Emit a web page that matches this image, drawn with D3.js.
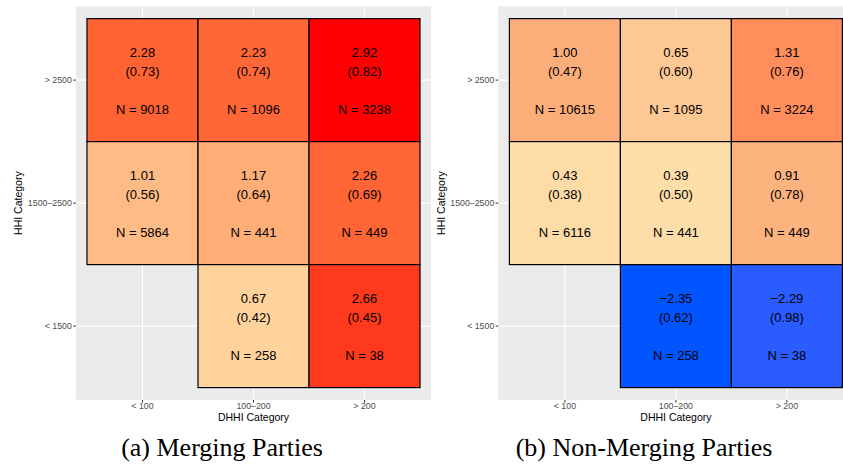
<!DOCTYPE html>
<html>
<head>
<meta charset="utf-8">
<script src="https://cdn.jsdelivr.net/npm/d3@7"></script>
<style>
  html, body { margin: 0; padding: 0; background: #fff; }
  svg { display: block; }
</style>
</head>
<body>
<svg id="chart" width="843" height="468"></svg>
<script>
// Category labels
const dhhiCats = ["< 100", "100–200", "> 200"];
const hhiCats = ["> 2500", "1500–2500", "< 1500"];

// Merging parties: mean, (se), N per cell
const mergingDhhi = ["< 100", "100–200", "> 200", "< 100", "100–200", "> 200", "100–200", "> 200"];
const mergingHhi = ["> 2500", "> 2500", "> 2500", "1500–2500", "1500–2500", "1500–2500", "< 1500", "< 1500"];
const mergingMean = [2.28, 2.23, 2.92, 1.01, 1.17, 2.26, 0.67, 2.66];
const mergingSe = [0.73, 0.74, 0.82, 0.56, 0.64, 0.69, 0.42, 0.45];
const mergingN = [9018, 1096, 3238, 5864, 441, 449, 258, 38];

// Non-merging parties
const nonMergingDhhi = mergingDhhi;
const nonMergingHhi = mergingHhi;
const nonMergingMean = [1.00, 0.65, 1.31, 0.43, 0.39, 0.91, -2.35, -2.29];
const nonMergingSe = [0.47, 0.60, 0.76, 0.38, 0.50, 0.78, 0.62, 0.98];
const nonMergingN = [10615, 1095, 3224, 6116, 441, 449, 258, 38];

// Fill gradients (value stops -> colours)
const mergingStops = [0.67, 1.01, 1.17, 2.25, 2.66, 2.92];
const mergingColors = ["#ffd39b", "#ffbb85", "#ffae78", "#ff6636", "#ff3a1c", "#ff0000"];
const nonMergingStops = [-2.35, -2.29, 0.39, 0.43, 0.65, 0.91, 1.00, 1.31];
const nonMergingColors = ["#0055ff", "#2b5cff", "#fedea8", "#fedca6", "#fdc893", "#fdb37e", "#fcae7a", "#ff8e5c"];

const svg = d3.select("#chart");
const fmt = d3.format(".2f");
const num = v => fmt(v).replace("-", "\u2212");

function drawPanel(opts) {
  const { left, top, width, height, dhhi, hhi, mean, se, n, stops, colors, caption, captionX, yTitleX } = opts;
  const g = svg.append("g");

  const x = d3.scaleBand().domain(dhhiCats).range([left, left + width]).paddingInner(0).paddingOuter(0.1);
  const y = d3.scaleBand().domain(hhiCats).range([top, top + height]).paddingInner(0).paddingOuter(0.1);
  const color = d3.scaleLinear().domain(stops).range(colors).interpolate(d3.interpolateRgb).clamp(true);

  // panel background
  g.append("rect").attr("x", left).attr("y", top).attr("width", width).attr("height", height).attr("fill", "#ebebeb");

  // major grid
  g.selectAll(".gx").data(dhhiCats).join("line")
    .attr("x1", d => x(d) + x.bandwidth() / 2).attr("x2", d => x(d) + x.bandwidth() / 2)
    .attr("y1", top).attr("y2", top + height)
    .attr("stroke", "#fff").attr("stroke-width", 1.1);
  g.selectAll(".gy").data(hhiCats).join("line")
    .attr("y1", d => y(d) + y.bandwidth() / 2).attr("y2", d => y(d) + y.bandwidth() / 2)
    .attr("x1", left).attr("x2", left + width)
    .attr("stroke", "#fff").attr("stroke-width", 1.1);

  const cells = mean.map((m, i) => ({ dx: dhhi[i], hy: hhi[i], m, se: se[i], n: n[i] }));

  // tiles
  g.selectAll(".tile").data(cells).join("rect")
    .attr("x", d => x(d.dx)).attr("y", d => y(d.hy))
    .attr("width", x.bandwidth()).attr("height", y.bandwidth())
    .attr("fill", d => color(d.m))
    .attr("stroke", "#000").attr("stroke-width", 1.2);

  // tile labels
  const lab = g.selectAll(".lab").data(cells).join("g")
    .attr("transform", d => `translate(${x(d.dx) + x.bandwidth() / 2},${y(d.hy) + y.bandwidth() / 2})`);
  const lines = d => [num(d.m), `(${fmt(d.se)})`, "", `N = ${d.n}`];
  lab.each(function (d) {
    d3.select(this).selectAll("text").data(lines(d)).join("text")
      .attr("y", (t, i) => (i - 1.5) * 19 + 1)
      .attr("dy", "0.35em")
      .attr("text-anchor", "middle")
      .attr("font-family", "Liberation Sans, Arial, sans-serif")
      .attr("font-size", 13)
      .attr("fill", "#000")
      .text(t => t);
  });

  // y axis ticks + labels
  g.selectAll(".yt").data(hhiCats).join("line")
    .attr("x1", left - 2.7).attr("x2", left)
    .attr("y1", d => y(d) + y.bandwidth() / 2).attr("y2", d => y(d) + y.bandwidth() / 2)
    .attr("stroke", "#333").attr("stroke-width", 1);
  g.selectAll(".yl").data(hhiCats).join("text")
    .attr("x", left - 4).attr("y", d => y(d) + y.bandwidth() / 2).attr("dy", "0.35em")
    .attr("text-anchor", "end")
    .attr("font-family", "Liberation Sans, Arial, sans-serif").attr("font-size", 8.8)
    .attr("fill", "#4d4d4d").text(d => d);

  // x axis ticks + labels
  g.selectAll(".xt").data(dhhiCats).join("line")
    .attr("y1", top + height).attr("y2", top + height + 2.7)
    .attr("x1", d => x(d) + x.bandwidth() / 2).attr("x2", d => x(d) + x.bandwidth() / 2)
    .attr("stroke", "#333").attr("stroke-width", 1);
  g.selectAll(".xl").data(dhhiCats).join("text")
    .attr("x", d => x(d) + x.bandwidth() / 2).attr("y", top + height + 6.3).attr("dy", "0.35em")
    .attr("text-anchor", "middle")
    .attr("font-family", "Liberation Sans, Arial, sans-serif").attr("font-size", 8.8)
    .attr("fill", "#4d4d4d").text(d => d);

  // axis titles
  g.append("text")
    .attr("x", x(dhhiCats[1]) + x.bandwidth() / 2).attr("y", top + height + 17.2).attr("dy", "0.35em")
    .attr("text-anchor", "middle")
    .attr("font-family", "Liberation Sans, Arial, sans-serif").attr("font-size", 10.5)
    .attr("fill", "#000").text("DHHI Category");
  g.append("text")
    .attr("transform", `translate(${yTitleX},${y(hhiCats[1]) + y.bandwidth() / 2}) rotate(-90)`)
    .attr("dy", "0.35em")
    .attr("text-anchor", "middle")
    .attr("font-family", "Liberation Sans, Arial, sans-serif").attr("font-size", 10.5)
    .attr("fill", "#000").text("HHI Category");

  // caption
  svg.append("text")
    .attr("x", captionX).attr("y", 456)
    .attr("text-anchor", "middle")
    .attr("font-family", "Liberation Serif, Times New Roman, serif").attr("font-size", 26)
    .attr("fill", "#000").text(caption);
}

drawPanel({
  left: 75.9, top: 6.3, width: 355.2, height: 393.6,
  dhhi: mergingDhhi, hhi: mergingHhi, mean: mergingMean, se: mergingSe, n: mergingN,
  stops: mergingStops, colors: mergingColors,
  caption: "(a) Merging Parties", captionX: 222, yTitleX: 18.5
});

drawPanel({
  left: 498.3, top: 6.3, width: 355.2, height: 393.6,
  dhhi: nonMergingDhhi, hhi: nonMergingHhi, mean: nonMergingMean, se: nonMergingSe, n: nonMergingN,
  stops: nonMergingStops, colors: nonMergingColors,
  caption: "(b) Non-Merging Parties", captionX: 644, yTitleX: 441
});
</script>
</body>
</html>
